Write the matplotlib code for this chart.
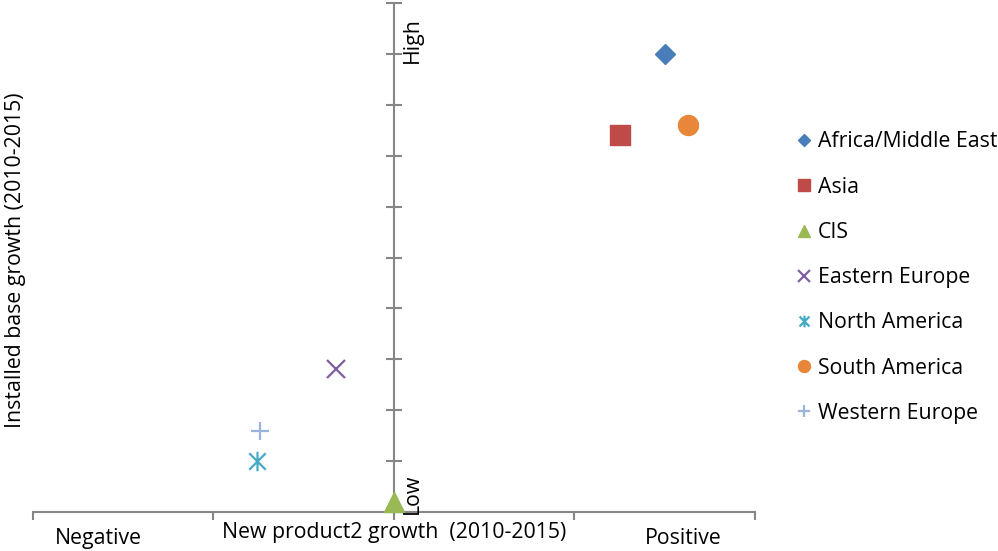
import matplotlib
matplotlib.use("Agg")
import matplotlib.pyplot as plt
from matplotlib.path import Path

plt.rcParams['font.family'] = ['Open Sans', 'DejaVu Sans']

# Regions and their position on the growth matrix
regions = ['Africa/Middle East', 'Asia', 'CIS', 'Eastern Europe',
           'North America', 'South America', 'Western Europe']
new_product_growth = [1.50, 1.25, 0.0, -0.32, -0.76, 1.63, -0.74]
installed_base_growth = [9.0, 7.4, 0.2, 2.8, 1.0, 7.6, 1.6]

colors = ['#4A7EBB', '#BE4B48', '#98B954', '#7D60A0', '#46AAC5', '#E8873A', '#9AB4DB']

# asterisk: an X with a vertical stroke through it
asterisk = Path([(-0.85, -0.85), (0.85, 0.85), (-0.85, 0.85), (0.85, -0.85), (0, -1), (0, 1)],
                [Path.MOVETO, Path.LINETO, Path.MOVETO, Path.LINETO, Path.MOVETO, Path.LINETO])
markers = ['D', 's', '^', 'x', asterisk, 'o', '+']
sizes = [10.5, 14.4, 14.4, 13.5, 14.0, 14.4, 13.5]
filled = [True, True, True, False, False, True, False]

fig = plt.figure(figsize=(9.98, 5.51), dpi=100)
ax = fig.add_axes([33/998, 39/551, 722/998, 509/551])

for name, x, y, c, m, s, f in zip(regions, new_product_growth, installed_base_growth,
                                  colors, markers, sizes, filled):
    if f:
        ax.plot([x], [y], linestyle='none', marker=m, markersize=s, color=c,
                markeredgecolor=c, label=name, clip_on=False, zorder=3)
    else:
        ax.plot([x], [y], linestyle='none', marker=m, markersize=s,
                markerfacecolor='none', markeredgecolor=c, markeredgewidth=1.6,
                label=name, clip_on=False, zorder=3)

ax.set_xlim(-2, 2)
ax.set_ylim(0, 10)

axis_grey = '#868686'
for side in ['top', 'right']:
    ax.spines[side].set_visible(False)
ax.spines['left'].set_position(('data', 0))
ax.spines['left'].set_color(axis_grey)
ax.spines['bottom'].set_color(axis_grey)
ax.spines['left'].set_linewidth(1.5)
ax.spines['bottom'].set_linewidth(1.5)

ax.set_xticks([-2, -1, 0, 1, 2])
ax.set_yticks(range(0, 11))
ax.tick_params(axis='x', direction='out', length=6, width=1.5, color=axis_grey,
               labelbottom=False)
ax.tick_params(axis='y', direction='inout', length=11, width=1.5, color=axis_grey,
               labelleft=False)

# axis captions
fs = 15.3
tr = ax.get_xaxis_transform()
ax.text(-1.64, -0.052, 'Negative', transform=tr, ha='center', va='center', fontsize=fs)
ax.text(0.0, -0.04, 'New product2 growth  (2010-2015)', transform=tr,
        ha='center', va='center', fontsize=fs)
ax.text(1.60, -0.052, 'Positive', transform=tr, ha='center', va='center', fontsize=fs)
fig.text(16/998, 1 - 260/551, 'Installed base growth (2010-2015)', rotation=90,
         ha='center', va='center', fontsize=fs)

ax.text(0.1, 8.82, 'High', rotation=90, ha='center', va='bottom', fontsize=fs)
ax.text(0.1, -0.04, 'Low', rotation=90, ha='center', va='bottom', fontsize=fs)

leg = ax.legend(loc='upper left', bbox_to_anchor=(790/998, 1 - 123/551),
                bbox_transform=fig.transFigure, frameon=False, fontsize=fs,
                markerscale=0.6, handlelength=0.55, handletextpad=0.35,
                labelspacing=1.14, borderaxespad=0)

fig.savefig('out.png', dpi=100)
